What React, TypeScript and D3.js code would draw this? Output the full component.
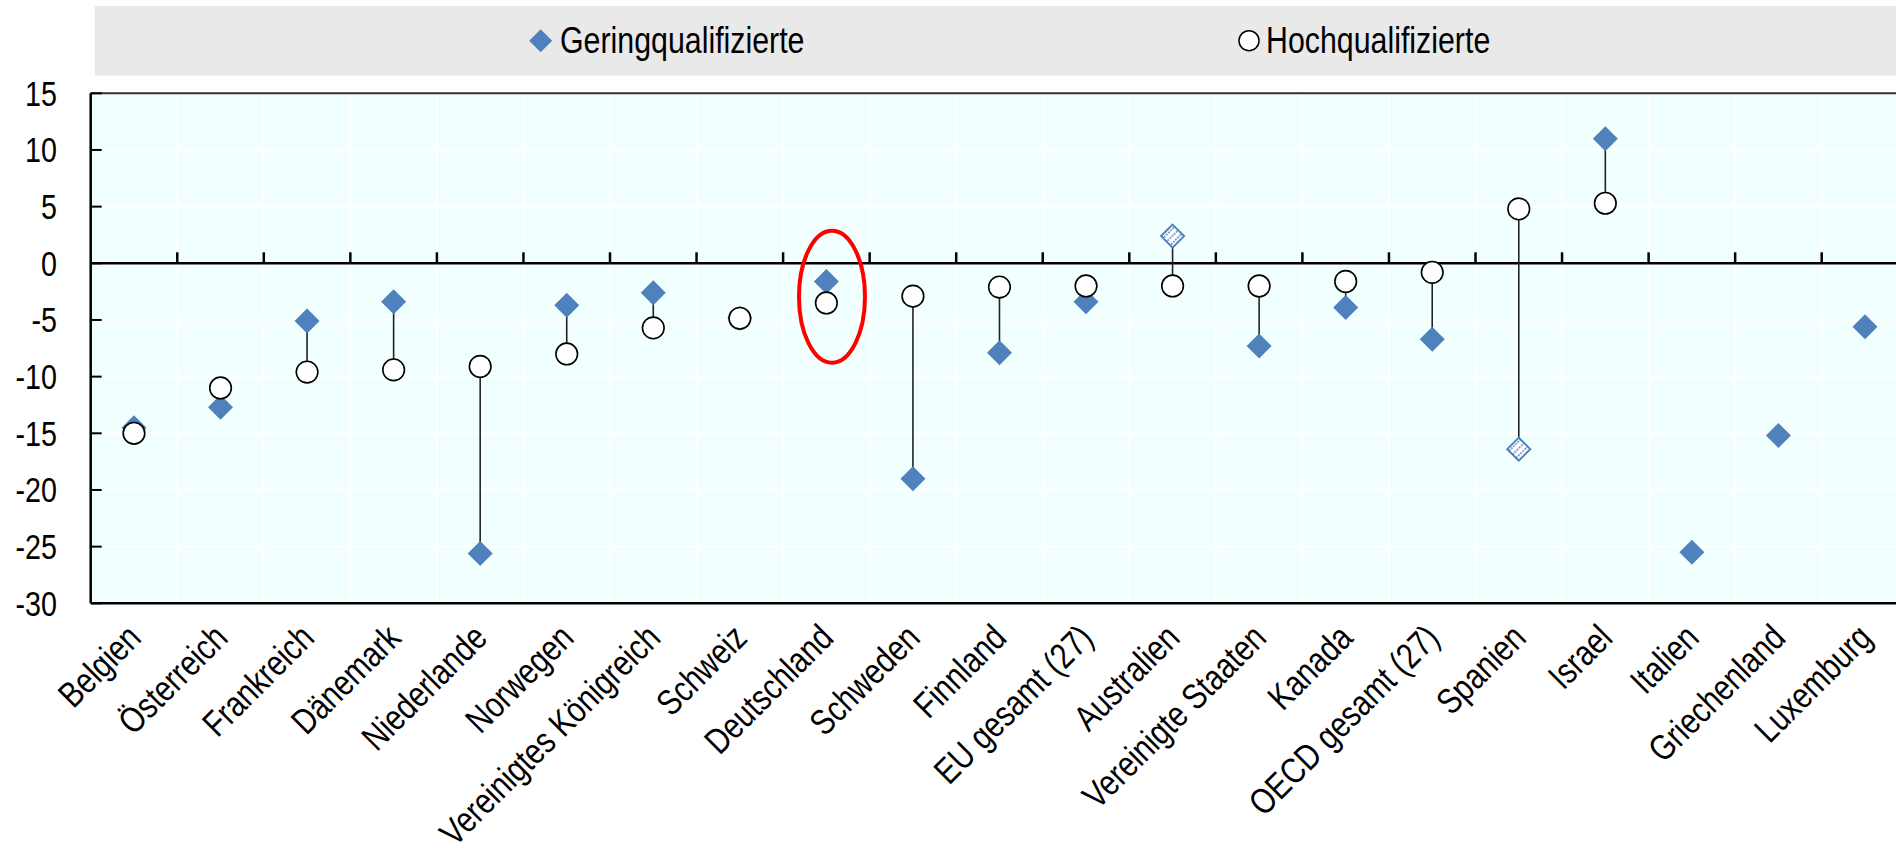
import React from "react";
import * as d3 from "d3";

const categories = [
  "Belgien", "Österreich", "Frankreich", "Dänemark", "Niederlande", "Norwegen",
  "Vereinigtes Königreich", "Schweiz", "Deutschland", "Schweden", "Finnland",
  "EU gesamt (27)", "Australien", "Vereinigte Staaten", "Kanada", "OECD gesamt (27)",
  "Spanien", "Israel", "Italien", "Griechenland", "Luxemburg",
];
const gering: (number | null)[] = [
  -14.5, -12.7, -5.1, -3.4, -25.6, -3.7, -2.6, -4.85, -1.6, -19.0, -7.9,
  -3.4, 2.4, -7.3, -3.9, -6.7, -16.4, 11.0, -25.5, -15.2, -5.6,
];
const hoch: (number | null)[] = [
  -15.0, -11.0, -9.6, -9.4, -9.1, -8.0, -5.7, -4.85, -3.5, -2.9, -2.1,
  -2.0, -2.0, -2.0, -1.6, -0.8, 4.8, 5.3, null, null, null,
];
const geringHatched = ["Australien", "Spanien"];
const yTicks = [15, 10, 5, 0, -5, -10, -15, -20, -25, -30];
const legendLabels = ["Geringqualifizierte", "Hochqualifizierte"];
const highlighted = "Deutschland";

const W = 1896;
const H = 852;
const BLUE = "#4F81BD";
const FONT = "'Liberation Sans', Arial, sans-serif";
const NARROW = 0.82;

export default function App() {
  const left = 90.7;
  const band = 86.55;
  const x = d3.scaleBand<string>().domain(categories).range([left, left + band * categories.length]);
  const y = d3.scaleLinear().domain([-30, 15]).range([603.3, 93.3]);
  const right = left + band * categories.length;
  const cx = (c: string) => (x(c) as number) + x.bandwidth() / 2;
  const DS = 12.5; // diamond half-diagonal
  const diamond = (px: number, py: number, s: number) =>
    `M${px},${py - s}L${px + s},${py}L${px},${py + s}L${px - s},${py}Z`;

  return (
    <svg width={W} height={H} style={{ position: "absolute", left: 0, top: 0, background: "#fff" }}
      fontFamily={FONT}>
      <defs>
        <pattern id="hatch" width="5" height="3" patternUnits="userSpaceOnUse" patternTransform="rotate(45)">
          <rect x="0" y="0" width="1.7" height="1.7" fill={BLUE} />
        </pattern>
      </defs>
      {/* legend */}
      <rect x={95} y={6} width={W - 95} height={69.7} fill="#E9E9E9" />
      <path d={diamond(540.7, 40.7, 11.5)} fill={BLUE} />
      <g transform={`translate(560,53) scale(${NARROW},1)`}>
        <text fontSize={37} fill="#000">{legendLabels[0]}</text>
      </g>
      <circle cx={1249} cy={40.7} r={10} fill="#fff" stroke="#000" strokeWidth={1.5} />
      <g transform={`translate(1266,53) scale(${NARROW},1)`}>
        <text fontSize={37} fill="#000">{legendLabels[1]}</text>
      </g>

      {/* plot background */}
      <rect x={left} y={y(15)} width={right - left} height={y(-30) - y(15)} fill="#F2FFFF" />
      {/* gridlines */}
      {yTicks.map((t) => (
        <line key={"h" + t} x1={left} x2={right} y1={y(t)} y2={y(t)} stroke="#fff" strokeWidth={2} />
      ))}
      {categories.slice(1).map((c) => (
        <line key={"v" + c} x1={x(c)} x2={x(c)} y1={y(15)} y2={y(-30)} stroke="#fff" strokeWidth={2} />
      ))}
      {/* frame */}
      <line x1={left} x2={right} y1={y(15)} y2={y(15)} stroke="#333" strokeWidth={2} />
      <line x1={left} x2={right} y1={y(-30)} y2={y(-30)} stroke="#000" strokeWidth={2.5} />
      <line x1={left} x2={left} y1={y(15)} y2={y(-30)} stroke="#000" strokeWidth={2.5} />
      {yTicks.map((t) => (
        <line key={"yt" + t} x1={left} x2={left + 11} y1={y(t)} y2={y(t)} stroke="#000" strokeWidth={2} />
      ))}
      {/* zero line */}
      <line x1={left} x2={right} y1={y(0)} y2={y(0)} stroke="#000" strokeWidth={2.5} />
      {categories.slice(1).map((c) => (
        <line key={"xt" + c} x1={x(c)} x2={x(c)} y1={y(0)} y2={y(0) - 11} stroke="#000" strokeWidth={2.5} />
      ))}
      {/* y tick labels */}
      {yTicks.map((t) => (
        <g key={"yl" + t} transform={`translate(57,${y(t) + 12.5}) scale(${NARROW},1)`}>
          <text fontSize={35} textAnchor="end" fill="#000">{t}</text>
        </g>
      ))}
      {/* connectors */}
      {categories.map((c, i) => {
        const g = gering[i];
        const h = hoch[i];
        if (g == null || h == null) return null;
        return <line key={"c" + c} x1={cx(c)} x2={cx(c)} y1={y(g)} y2={y(h)} stroke="#222" strokeWidth={1.6} />;
      })}
      {/* diamonds */}
      {categories.map((c, i) => {
        const g = gering[i];
        if (g == null) return null;
        if (geringHatched.includes(c)) {
          return (
            <g key={"d" + c}>
              <path d={diamond(cx(c), y(g), 11.5)} fill="#fff" />
              <path d={diamond(cx(c), y(g), 11.5)} fill="url(#hatch)" stroke={BLUE} strokeWidth={2} />
            </g>
          );
        }
        return <path key={"d" + c} d={diamond(cx(c), y(g), DS)} fill={BLUE} />;
      })}
      {/* circles */}
      {categories.map((c, i) => {
        const h = hoch[i];
        if (h == null) return null;
        return <circle key={"o" + c} cx={cx(c)} cy={y(h)} r={10.8} fill="#fff" stroke="#000" strokeWidth={1.6} />;
      })}
      {/* x labels */}
      {categories.map((c) => (
        <g key={"xl" + c} transform={`translate(${cx(c) + 9},640) rotate(-45) scale(${NARROW},1)`}>
          <text fontSize={36} textAnchor="end" fill="#000">{c}</text>
        </g>
      ))}
      {/* highlight */}
      <ellipse cx={cx(highlighted) + 5.6} cy={296.7} rx={33} ry={66} fill="none" stroke="#FF0000" strokeWidth={4} />
    </svg>
  );
}
